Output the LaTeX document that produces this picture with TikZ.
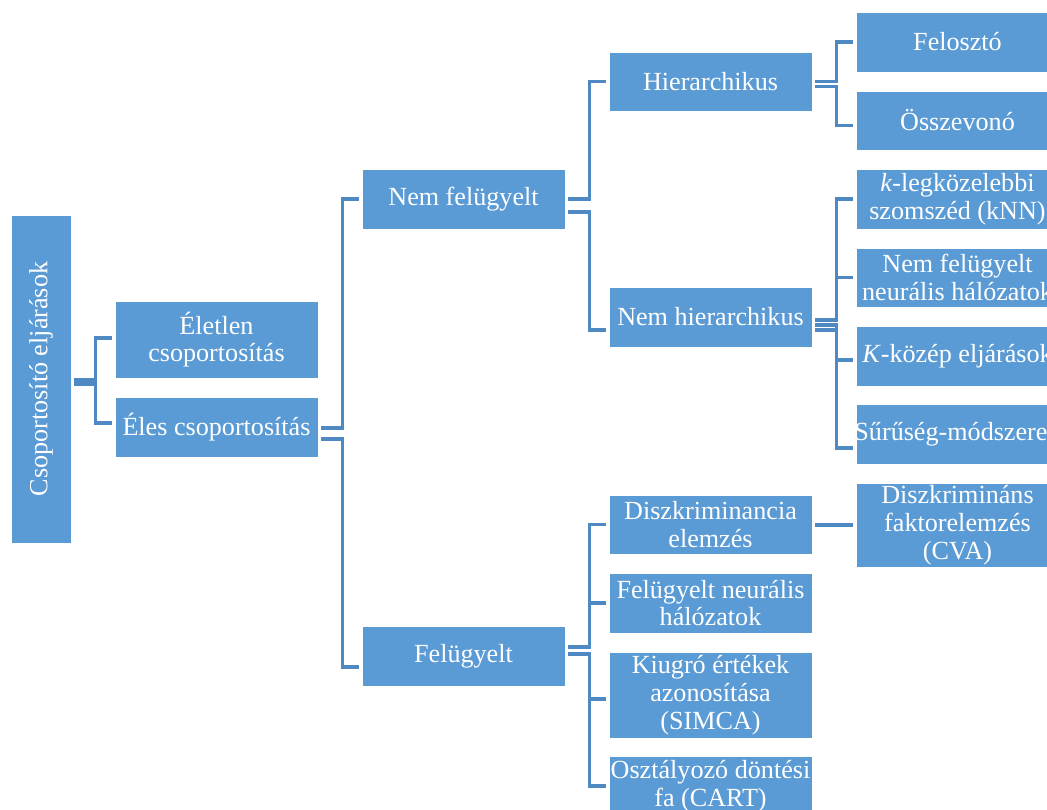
\documentclass[tikz,border=0pt]{standalone}
\usepackage{fontspec}
\setmainfont{Liberation Serif}
\usetikzlibrary{calc}
\definecolor{boxblue}{HTML}{5B9BD5}
\definecolor{lineblue}{HTML}{4F89C4}
\tikzset{
  box/.style={fill=boxblue, draw=white, line width=0.6pt, text=white, align=center,
    font=\fontsize{19.6}{20.8}\selectfont, inner sep=0pt, minimum width=152.25pt, minimum height=45pt},
  conn/.style={draw=lineblue, line width=2.5pt}
}
\begin{document}
\begin{tikzpicture}[x=0.75pt,y=-0.75pt]
\useasboundingbox (0,0) rectangle (1047,810);
\clip (0,0) rectangle (1047,810);
% nodes (pixel centres)
\node[box, minimum width=45pt, minimum height=246pt] (root) at (41,379) {};
\node[text=white, rotate=90, font=\fontsize{19.6}{20.8}\selectfont] (roott) at (root.center) {Csoportosító eljárások};
\node[box, minimum height=57.75pt] (elet) at (216.5,339.5) {Életlen\\csoportosítás};
\node[box] (eles) at (216.5,427) {Éles csoportosítás};
\node[box] (nemf) at (463.5,199) {Nem felügyelt};
\node[box] (fel) at (463.5,656) {Felügyelt};
\node[box, minimum height=44.25pt] (hier) at (710.5,81.5) {Hierarchikus};
\node[box] (nemh) at (710.5,317) {Nem hierarchikus};
\node[box] (feloszto) at (957.5,42) {Felosztó};
\node[box, minimum height=44.25pt] (ossze) at (957.5,120.5) {Összevonó};
\node[box] (knn) at (957.5,199) {\textit{k}-legközelebbi\\szomszéd (kNN)};
\node[box, minimum height=44.25pt] (nfn) at (957.5,277.5) {Nem felügyelt\\neurális hálózatok};
\node[box] (kkoz) at (957.5,356) {\textit{K}-közép eljárások};
\node[box] (suru) at (957.5,434) {\makebox[0pt]{Sűrűség-módszerek}};
\node[box, minimum height=44.25pt] (diszk) at (710.5,524.5) {Diszkriminancia\\elemzés};
\node[box, minimum height=63pt] (cva) at (957.5,525) {Diszkrimináns\\faktorelemzés\\(CVA)};
\node[box] (fn) at (710.5,603) {Felügyelt neurális\\hálózatok};
\node[box, minimum height=64.5pt] (kiug) at (710.5,695) {Kiugró értékek\\azonosítása\\(SIMCA)};
\node[box] (oszt) at (710.5,786) {Osztályozó döntési\\fa (CART)};
% connectors
\draw[conn] ($(root.east)+(3,1)$) -| ($(elet.west)+(-19,-1.5)$) -- ($(elet.west)+(-3,-1.5)$);
\draw[conn] ($(root.east)+(3,5)$) -| ($(eles.west)+(-19,-4)$) -- ($(eles.west)+(-3,-4)$);
\draw[conn] ($(eles.east)+(3,1)$) -| ($(nemf.west)+(-19,0)$) -- ($(nemf.west)+(-3,0)$);
\draw[conn] ($(eles.east)+(3,12)$) -| ($(fel.west)+(-19,11)$) -- ($(fel.west)+(-3,11)$);
\draw[conn] ($(nemf.east)+(3,0)$) -| ($(hier.west)+(-19,0)$) -- ($(hier.west)+(-3,0)$);
\draw[conn] ($(nemf.east)+(3,13)$) -| ($(nemh.west)+(-19,13)$) -- ($(nemh.west)+(-3,13)$);
\draw[conn] ($(hier.east)+(3,0)$) -| ($(feloszto.west)+(-19,0)$) -- ($(feloszto.west)+(-3,0)$);
\draw[conn] ($(hier.east)+(3,5)$) -| ($(ossze.west)+(-19,5)$) -- ($(ossze.west)+(-3,5)$);
\draw[conn] ($(nemh.east)+(3,3)$) -| ($(knn.west)+(-19,0)$) -- ($(knn.west)+(-3,0)$);
\draw[conn] ($(nemh.east)+(3,3)$) -| ($(nfn.west)+(-19,0)$) -- ($(nfn.west)+(-3,0)$);
\draw[conn] ($(nemh.east)+(3,8)$) -| ($(kkoz.west)+(-19,4)$) -- ($(kkoz.west)+(-3,4)$);
\draw[conn] ($(nemh.east)+(3,13)$) -| ($(suru.west)+(-19,14)$) -- ($(suru.west)+(-3,14)$);
\draw[conn] ($(fel.east)+(3,-9)$) -| ($(diszk.west)+(-19,0)$) -- ($(diszk.west)+(-3,0)$);
\draw[conn] ($(fel.east)+(3,-9)$) -| ($(fn.west)+(-19,0)$) -- ($(fn.west)+(-3,0)$);
\draw[conn] ($(fel.east)+(3,-2)$) -| ($(kiug.west)+(-19,4)$) -- ($(kiug.west)+(-3,4)$);
\draw[conn] ($(fel.east)+(3,-2)$) -| ($(oszt.west)+(-19,0)$) -- ($(oszt.west)+(-3,0)$);
\draw[conn] ($(diszk.east)+(3,0.5)$) -- ($(cva.west)+(-3,0)$);
\end{tikzpicture}
\end{document}
